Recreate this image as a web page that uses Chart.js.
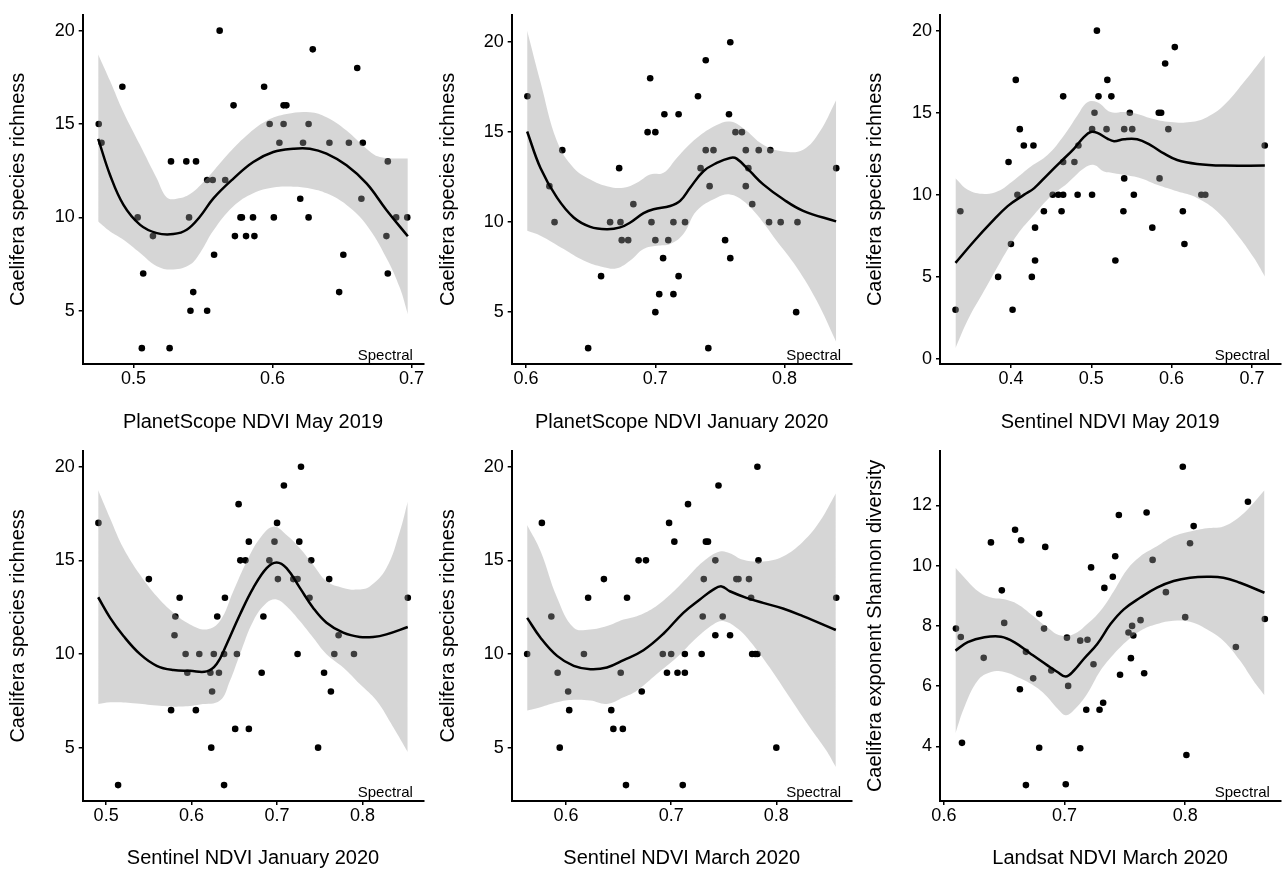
<!DOCTYPE html>
<html>
<head>
<meta charset="utf-8">
<script src="https://cdn.jsdelivr.net/npm/chart.js@4/dist/chart.umd.min.js"></script>
<style>
  body { margin: 0; background: #fff; }
  #wrap { position: relative; width: 1287px; height: 872px; }
  .panel { position: absolute; }
</style>
</head>
<body>
<div id="wrap"></div>
<script>
// panel 1: PlanetScope NDVI May 2019
const p1X = [0.475,0.477,0.492,0.503,0.507,0.506,0.514,0.527,0.526,0.538,0.545,0.540,0.543,0.541,0.553,0.557,0.553,0.558,0.562,0.566,0.572,0.573,0.577,0.578,0.581,0.586,0.587,0.594,0.598,0.601,0.605,0.608,0.608,0.610,0.620,0.622,0.626,0.626,0.629,0.641,0.651,0.648,0.655,0.661,0.665,0.664,0.682,0.683,0.683,0.689,0.697];
const p1Y = [15,14,17,10,7,3,9,13,3,13,13,10,6,5,12,12,5,8,20,12,16,9,10,10,9,10,9,17,15,10,14,15,16,16,11,14,10,15,19,14,8,6,14,18,14,11,9,13,7,10,10];
const p1SmoothX = [0.4746,0.4832,0.4928,0.5048,0.5168,0.5287,0.5383,0.5479,0.5575,0.5719,0.5862,0.6006,0.615,0.6269,0.6389,0.6533,0.6677,0.682,0.6974];
const p1SmoothY = [14.21,12.26,10.67,9.6,9.16,9.11,9.34,10.05,11.02,12.08,12.97,13.5,13.68,13.68,13.41,12.79,11.82,10.4,8.99];
const p1UpperX = [0.4746,0.4832,0.4928,0.5048,0.5168,0.524,0.5311,0.5407,0.5527,0.5671,0.5814,0.5958,0.6102,0.6269,0.6389,0.6533,0.6677,0.6772,0.6974];
const p1UpperY = [18.73,17.3,15.63,13.86,12.08,11.06,11.0,11.25,12.08,13.32,14.39,15.18,15.54,15.63,15.36,14.65,13.68,13.24,13.15];
const p1LowerX = [0.4746,0.4832,0.4928,0.5048,0.5168,0.5287,0.5407,0.5479,0.5575,0.5719,0.5862,0.6006,0.615,0.6269,0.6389,0.6533,0.6677,0.682,0.6916,0.6974];
const p1LowerY = [9.78,9.25,8.81,8.1,7.39,7.21,7.48,8.1,9.3,10.6,11.3,11.6,11.64,11.55,11.29,10.67,9.6,7.83,6.24,4.82];

// panel 2: PlanetScope NDVI January 2020
const p2X = [0.601,0.618,0.622,0.628,0.648,0.658,0.665,0.672,0.673,0.674,0.679,0.683,0.694,0.696,0.697,0.700,0.700,0.700,0.703,0.706,0.707,0.710,0.714,0.714,0.718,0.718,0.723,0.733,0.735,0.739,0.739,0.745,0.742,0.741,0.754,0.757,0.758,0.758,0.762,0.767,0.770,0.770,0.772,0.775,0.780,0.789,0.788,0.797,0.810,0.809,0.840];
const p2Y = [17,12,10,14,3,7,10,13,10,9,9,11,15,18,10,5,9,15,6,8,16,9,10,6,16,7,10,17,13,19,14,14,12,3,9,16,20,8,15,15,14,12,13,11,14,14,10,10,10,5,13];
const p2SmoothX = [0.6008,0.6111,0.6239,0.6368,0.6497,0.6625,0.6728,0.6806,0.6909,0.6986,0.7115,0.7192,0.7269,0.7372,0.7475,0.7578,0.7629,0.7732,0.7835,0.799,0.8144,0.8399];
const p2SmoothY = [15.04,13.01,11.36,10.26,9.74,9.61,9.71,9.98,10.5,10.72,10.9,11.18,11.91,12.83,13.29,13.57,13.53,12.83,12.1,11.27,10.63,10.04];
const p2UpperX = [0.6008,0.6111,0.6239,0.6368,0.6497,0.6625,0.6754,0.6857,0.696,0.7063,0.7166,0.732,0.7475,0.7578,0.7681,0.7835,0.799,0.8144,0.8273,0.8399];
const p2UpperY = [20.64,17.79,14.49,13.01,12.37,12.0,11.91,12.19,12.65,12.74,13.57,14.67,15.4,15.59,15.22,14.3,13.93,14.03,15.04,16.78];
const p2LowerX = [0.6008,0.6111,0.6291,0.6445,0.66,0.6703,0.6806,0.6909,0.7012,0.7115,0.7217,0.732,0.7475,0.7578,0.7681,0.7784,0.7938,0.8093,0.8247,0.8399];
const p2LowerY = [9.52,9.25,8.51,7.87,7.5,7.44,7.87,8.51,8.69,8.79,9.34,10.63,11.36,11.54,11.18,10.44,8.97,7.5,5.66,3.36];

// panel 3: Sentinel NDVI May 2019
const p3X = [0.331,0.337,0.384,0.397,0.400,0.402,0.406,0.408,0.411,0.416,0.426,0.428,0.430,0.430,0.441,0.452,0.459,0.463,0.465,0.465,0.465,0.479,0.483,0.484,0.501,0.501,0.504,0.507,0.509,0.519,0.520,0.525,0.530,0.541,0.540,0.541,0.548,0.551,0.553,0.576,0.584,0.587,0.585,0.592,0.596,0.604,0.614,0.616,0.637,0.642,0.716];
const p3Y = [3,9,5,12,7,3,17,10,14,13,5,13,8,6,9,10,10,9,10,12,16,12,10,13,14,10,15,20,16,14,17,16,6,11,9,14,15,14,10,8,15,15,11,18,14,19,9,7,10,10,13];
const p3SmoothX = [0.3309,0.3545,0.3752,0.3959,0.4165,0.429,0.4455,0.4621,0.4786,0.491,0.4993,0.5076,0.52,0.5283,0.5407,0.5572,0.5738,0.5903,0.6069,0.6317,0.6648,0.7161];
const p3SmoothY = [5.85,7.2,8.3,9.31,10.01,10.41,11.22,12.02,12.82,13.53,13.83,13.77,13.43,13.27,13.39,13.39,13.03,12.52,12.12,11.88,11.78,11.78];
const p3UpperX = [0.3309,0.3462,0.3669,0.3835,0.4041,0.4248,0.4455,0.4662,0.4827,0.4952,0.5076,0.5241,0.5407,0.5572,0.5738,0.5986,0.6234,0.6441,0.6648,0.6896,0.7161];
const p3UpperY = [11.01,10.31,10.05,10.21,10.91,11.72,12.42,13.63,14.83,15.64,15.64,15.04,15.04,14.93,14.67,14.43,14.43,14.73,15.44,16.84,18.49];
const p3LowerX = [0.3309,0.3462,0.3669,0.3876,0.4083,0.429,0.4496,0.4703,0.491,0.5034,0.5158,0.5283,0.5407,0.5614,0.582,0.6069,0.6317,0.6565,0.6813,0.702,0.7161];
const p3LowerY = [0.66,2.37,4.18,5.99,7.6,8.8,9.91,10.71,11.62,11.82,11.42,11.32,11.22,11.01,10.61,10.21,9.81,9.0,7.6,6.19,5.03];

// panel 4: Sentinel NDVI January 2020
const p4X = [0.491,0.514,0.550,0.576,0.580,0.581,0.586,0.593,0.595,0.605,0.609,0.622,0.623,0.624,0.626,0.630,0.632,0.638,0.638,0.639,0.651,0.653,0.655,0.657,0.663,0.667,0.667,0.682,0.684,0.691,0.697,0.700,0.701,0.708,0.719,0.724,0.726,0.724,0.728,0.738,0.740,0.748,0.755,0.761,0.763,0.767,0.772,0.790,0.853];
const p4Y = [17,3,14,7,11,12,13,10,9,7,10,9,5,8,10,12,9,3,10,13,6,10,18,15,15,16,6,9,12,15,16,17,14,19,14,10,16,14,20,13,15,5,9,14,8,10,11,10,13];
const p4SmoothX = [0.4907,0.5047,0.5203,0.5397,0.5592,0.5787,0.5982,0.6176,0.6293,0.641,0.6566,0.6722,0.6878,0.6995,0.7111,0.7267,0.7423,0.7579,0.7774,0.7968,0.8124,0.828,0.8529];
const p4SmoothY = [13.03,11.93,10.96,9.99,9.37,9.14,9.1,9.07,9.46,10.52,12.11,13.53,14.59,14.89,14.59,13.53,12.46,11.67,11.14,10.91,10.91,11.05,11.44];
const p4UpperX = [0.4907,0.5047,0.5203,0.5397,0.5592,0.5787,0.5982,0.6176,0.6332,0.6488,0.6644,0.68,0.6956,0.7111,0.7267,0.7423,0.7579,0.7774,0.793,0.8085,0.828,0.8436,0.8529];
const p4UpperY = [18.74,17.24,15.65,14.23,13.08,12.2,11.58,11.31,11.76,13.35,14.94,16.18,16.8,16.36,15.65,14.76,13.88,13.53,13.44,13.61,14.59,16.53,18.13];
const p4LowerX = [0.4907,0.5047,0.5319,0.5592,0.5865,0.6099,0.6332,0.6449,0.6566,0.6722,0.6878,0.6995,0.7111,0.7267,0.7423,0.7579,0.7774,0.7968,0.8163,0.8358,0.8529];
const p4LowerY = [7.33,7.42,7.37,7.25,7.19,7.3,7.51,8.57,9.99,11.76,12.73,12.91,12.55,11.76,10.87,9.99,9.28,8.4,7.51,6.1,4.77];

// panel 5: Sentinel NDVI March 2020
const p5X = [0.563,0.577,0.586,0.592,0.594,0.602,0.603,0.617,0.621,0.636,0.643,0.645,0.652,0.654,0.657,0.658,0.669,0.672,0.676,0.692,0.696,0.698,0.700,0.703,0.706,0.711,0.713,0.713,0.716,0.729,0.730,0.731,0.733,0.735,0.742,0.742,0.745,0.749,0.756,0.762,0.764,0.774,0.776,0.777,0.780,0.782,0.782,0.783,0.800,0.857];
const p5Y = [10,17,12,9,5,8,7,10,13,14,7,6,9,6,3,13,15,8,15,10,9,17,10,16,9,3,10,9,18,10,12,14,16,16,15,11,19,12,11,14,14,14,13,10,10,10,20,15,5,13];
const p5SmoothX = [0.563,0.5757,0.5915,0.6073,0.6231,0.6389,0.6547,0.6736,0.6926,0.7115,0.7273,0.74,0.7479,0.7558,0.7716,0.7874,0.8063,0.8253,0.8566];
const p5SmoothY = [11.93,10.87,9.9,9.37,9.19,9.28,9.67,10.2,11.08,12.2,12.91,13.44,13.61,13.35,13.0,12.73,12.43,12.02,11.28];
const p5UpperX = [0.563,0.5757,0.5915,0.6073,0.6231,0.6389,0.6547,0.6673,0.6831,0.6989,0.7147,0.7305,0.7463,0.7558,0.7684,0.7874,0.8063,0.8253,0.8411,0.8566];
const p5UpperY = [16.89,15.5,13.0,11.4,11.31,11.49,11.84,12.02,12.46,13.17,14.05,14.94,15.47,15.38,15.03,14.94,15.21,16.0,17.06,18.57];
const p5LowerX = [0.563,0.5757,0.5915,0.6073,0.6231,0.6389,0.6547,0.6673,0.6863,0.7052,0.7242,0.74,0.7495,0.7621,0.7747,0.7937,0.8126,0.8316,0.8474,0.8566];
const p5LowerY = [6.98,7.16,7.42,7.55,7.51,7.33,7.69,8.04,8.93,9.81,10.87,11.58,11.76,11.4,10.7,9.28,7.69,6.1,4.86,3.97];

// panel 6: Landsat NDVI March 2020 (Shannon diversity)
const p6X = [0.610,0.614,0.615,0.633,0.639,0.648,0.650,0.659,0.663,0.664,0.668,0.668,0.674,0.679,0.679,0.683,0.684,0.689,0.701,0.702,0.703,0.713,0.713,0.718,0.719,0.722,0.724,0.729,0.732,0.733,0.740,0.742,0.745,0.746,0.753,0.755,0.756,0.757,0.763,0.766,0.768,0.773,0.784,0.798,0.800,0.801,0.804,0.807,0.842,0.852,0.866];
const p6Y = [7.91,7.63,4.12,6.94,10.77,9.18,8.10,11.19,5.9,10.84,7.14,2.72,6.26,8.40,3.96,7.91,10.62,6.52,2.75,7.61,6.01,3.94,7.51,5.22,7.54,9.94,6.73,5.22,5.45,9.26,9.63,10.31,11.68,6.38,7.78,6.93,8.0,7.68,8.19,6.43,11.76,10.19,9.12,13.28,8.29,3.72,10.74,11.31,7.30,12.12,8.23];
const p6SmoothX = [0.6096,0.6198,0.6336,0.6473,0.6583,0.6721,0.6858,0.6941,0.701,0.7078,0.7161,0.7271,0.7381,0.7491,0.7629,0.7766,0.7904,0.8041,0.8179,0.8316,0.8454,0.8657];
const p6SmoothY = [7.18,7.46,7.62,7.64,7.46,7.07,6.69,6.47,6.32,6.52,6.91,7.4,8.06,8.55,8.94,9.27,9.49,9.6,9.63,9.6,9.43,9.1];
const p6UpperX = [0.6096,0.6171,0.6281,0.6391,0.6501,0.6611,0.6721,0.6858,0.6968,0.7078,0.7188,0.7298,0.7409,0.7519,0.7629,0.7766,0.7904,0.8041,0.8179,0.8316,0.8454,0.8564,0.8657];
const p6UpperY = [9.93,9.6,9.16,8.94,8.88,8.72,8.39,7.95,7.68,7.73,8.06,8.5,9.16,9.87,10.31,10.64,10.97,11.13,11.24,11.3,11.63,12.07,12.5];
const p6LowerX = [0.6096,0.6171,0.6281,0.6391,0.6501,0.6611,0.6721,0.6831,0.6941,0.701,0.7078,0.7188,0.7298,0.7409,0.7519,0.7629,0.7766,0.7904,0.8041,0.8179,0.8316,0.8454,0.8564,0.8657];
const p6LowerY = [4.44,5.32,6.19,6.47,6.47,6.3,6.08,5.75,5.26,5.04,5.21,5.75,6.52,7.07,7.51,7.84,8.06,8.17,8.14,7.89,7.51,6.85,6.19,5.70];

// axis titles and tick labels
const xTitles = ["PlanetScope NDVI May 2019", "PlanetScope NDVI January 2020", "Sentinel NDVI May 2019",
                 "Sentinel NDVI January 2020", "Sentinel NDVI March 2020", "Landsat NDVI March 2020"];
const yTitles = ["Caelifera species richness", "Caelifera species richness", "Caelifera species richness",
                 "Caelifera species richness", "Caelifera species richness", "Caelifera exponent Shannon diversity"];
const xTickVals = [[0.5, 0.6, 0.7], [0.6, 0.7, 0.8], [0.4, 0.5, 0.6, 0.7],
                   [0.5, 0.6, 0.7, 0.8], [0.6, 0.7, 0.8], [0.6, 0.7, 0.8]];
const yTickVals = [[5, 10, 15, 20], [5, 10, 15, 20], [0, 5, 10, 15, 20],
                   [5, 10, 15, 20], [5, 10, 15, 20], [4, 6, 8, 10, 12]];
const cornerLabel = "Spectral";

const panels = [
  [p1X, p1Y, p1SmoothX, p1SmoothY, p1UpperX, p1UpperY, p1LowerX, p1LowerY],
  [p2X, p2Y, p2SmoothX, p2SmoothY, p2UpperX, p2UpperY, p2LowerX, p2LowerY],
  [p3X, p3Y, p3SmoothX, p3SmoothY, p3UpperX, p3UpperY, p3LowerX, p3LowerY],
  [p4X, p4Y, p4SmoothX, p4SmoothY, p4UpperX, p4UpperY, p4LowerX, p4LowerY],
  [p5X, p5Y, p5SmoothX, p5SmoothY, p5UpperX, p5UpperY, p5LowerX, p5LowerY],
  [p6X, p6Y, p6SmoothX, p6SmoothY, p6UpperX, p6UpperY, p6LowerX, p6LowerY],
];

// page layout (pixels)
const colLeft = [0, 430, 857];
const colWidth = [430, 427, 430];
const yAxisW = [82.7, 81.7, 83];
const padRight = [6.7, 5.3, 6.7];
const rowTop = [0, 436];
const rowHeight = 436;
const rowPadTop = [12, 13];
const xAxisH = [72, 71];

const FONT = '"Liberation Sans", Arial, Helvetica, sans-serif';
const zip = (xs, ys) => xs.map((x, i) => ({ x: x, y: ys[i] }));

// ggplot-style 5% expansion
function expand(vals) {
  const lo = Math.min(...vals), hi = Math.max(...vals);
  const pad = (hi - lo) * 0.05;
  return [lo - pad, hi + pad];
}

const cornerText = {
  id: "cornerText",
  afterDatasetsDraw(chart) {
    const { ctx, chartArea } = chart;
    ctx.save();
    ctx.font = "15px " + FONT;
    ctx.fillStyle = "#000";
    ctx.textAlign = "right";
    ctx.textBaseline = "alphabetic";
    ctx.fillText(cornerLabel, chartArea.right - 10.5, chartArea.bottom - 4.5);
    ctx.restore();
  },
};

panels.forEach((p, i) => {
  const [px, py, sx, sy, ux, uy, lx, ly] = p;
  const col = i % 3, row = Math.floor(i / 3);

  const div = document.createElement("div");
  div.className = "panel";
  div.style.left = colLeft[col] + "px";
  div.style.top = rowTop[row] + "px";
  div.style.width = colWidth[col] + "px";
  div.style.height = rowHeight + "px";
  const canvas = document.createElement("canvas");
  div.appendChild(canvas);
  document.getElementById("wrap").appendChild(div);

  const [xmin, xmax] = expand([...px, ...sx]);
  const [ymin, ymax] = expand([...py, ...uy, ...ly]);

  new Chart(canvas.getContext("2d"), {
    type: "line",
    data: {
      datasets: [
        {
          data: zip(px, py),
          showLine: false,
          pointRadius: 3.3,
          pointBackgroundColor: "#000",
          pointBorderWidth: 0,
          order: 3,
        },
        {
          data: zip(lx, ly),
          pointRadius: 0,
          borderWidth: 0,
          fill: false,
          tension: 0.4,
          order: 2,
        },
        {
          data: zip(ux, uy),
          pointRadius: 0,
          borderWidth: 0,
          fill: "-1",
          backgroundColor: "rgba(153,153,153,0.4)",
          tension: 0.4,
          order: 1,
        },
        {
          data: zip(sx, sy),
          pointRadius: 0,
          borderColor: "#000",
          borderWidth: 2.5,
          fill: false,
          tension: 0.4,
          order: 0,
        },
      ],
    },
    options: {
      responsive: true,
      maintainAspectRatio: false,
      animation: false,
      layout: { padding: { top: rowPadTop[row], right: padRight[col], left: 0, bottom: 0 } },
      plugins: { legend: { display: false }, tooltip: { enabled: false } },
      scales: {
        x: {
          type: "linear",
          min: xmin,
          max: xmax,
          afterBuildTicks: (s) => { s.ticks = xTickVals[i].map((v) => ({ value: v })); },
          afterFit: (s) => { s.height = xAxisH[row]; },
          grid: { drawOnChartArea: false, drawTicks: true, tickLength: 4, color: "#000", lineWidth: 1.5 },
          border: { display: true, color: "#000", width: 2 },
          ticks: {
            color: "#000",
            padding: 0.5,
            maxRotation: 0,
            autoSkip: false,
            font: { size: 18, family: FONT },
            callback: (v) => v.toFixed(1),
          },
          title: {
            display: true,
            text: xTitles[i],
            color: "#000",
            font: { size: 20, family: FONT },
            padding: { top: 0, bottom: 1.5 },
          },
        },
        y: {
          type: "linear",
          min: ymin,
          max: ymax,
          afterBuildTicks: (s) => { s.ticks = yTickVals[i].map((v) => ({ value: v })); },
          afterFit: (s) => { s.width = yAxisW[col]; },
          grid: { drawOnChartArea: false, drawTicks: true, tickLength: 4, color: "#000", lineWidth: 1.5 },
          border: { display: true, color: "#000", width: 2 },
          ticks: {
            color: "#000",
            padding: 4,
            autoSkip: false,
            font: { size: 18, family: FONT },
            callback: (v) => String(v),
          },
          title: {
            display: true,
            text: yTitles[i],
            color: "#000",
            font: { size: 20, family: FONT },
            padding: { top: 6, bottom: 0 },
          },
        },
      },
    },
    plugins: [cornerText],
  });
});
</script>
</body>
</html>
